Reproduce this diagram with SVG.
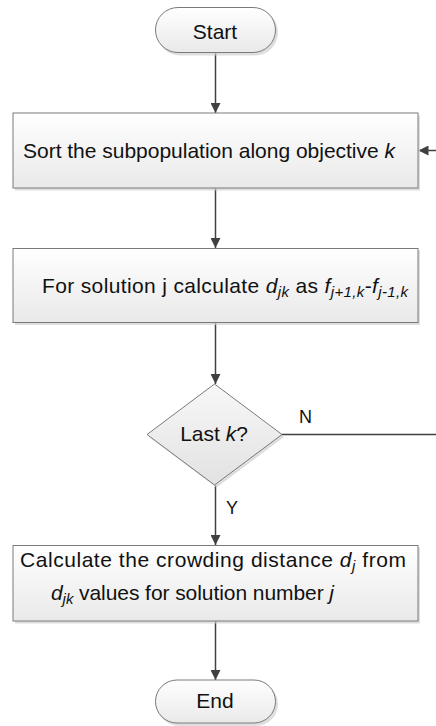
<svg xmlns="http://www.w3.org/2000/svg" width="436" height="726" viewBox="0 0 436 726">
<defs>
<linearGradient id="g" x1="0" y1="0" x2="0" y2="1">
<stop offset="0" stop-color="#ffffff"/>
<stop offset="1" stop-color="#e9e9e9"/>
</linearGradient>
<linearGradient id="gd" x1="0" y1="0" x2="0" y2="1">
<stop offset="0" stop-color="#f7f7f7"/>
<stop offset="1" stop-color="#e2e2e2"/>
</linearGradient>
<marker id="ah" viewBox="0 0 10 10" refX="10" refY="5" markerWidth="10" markerHeight="10" markerUnits="userSpaceOnUse" orient="auto">
<path d="M0,0 L10,5 L0,10 z" fill="#404040"/>
</marker>
</defs>
<style>
.shape{fill:url(#g);stroke:#7a7a7a;stroke-width:1}
.dia{fill:url(#gd);stroke:#7a7a7a;stroke-width:1}
.shadow{fill:#d0d0d0;stroke:none;opacity:0.7}
.t{font-family:"Liberation Sans",Arial,sans-serif;font-size:21px;fill:#111}
.lbl{font-family:"Liberation Sans",Arial,sans-serif;font-size:18px;fill:#111}
.i{font-style:italic}
.sub{font-size:15px;font-style:italic}
.c{fill:none;stroke:#404040;stroke-width:1.5}
</style>
<rect width="436" height="726" fill="#ffffff"/>
<g id="connectors">
<line class="c" x1="215.5" y1="53" x2="215.5" y2="113" marker-end="url(#ah)"/>
<line class="c" x1="215.5" y1="188" x2="215.5" y2="248" marker-end="url(#ah)"/>
<line class="c" x1="215.5" y1="322.5" x2="215.5" y2="384" marker-end="url(#ah)"/>
<line class="c" x1="215.5" y1="485" x2="215.5" y2="545" marker-end="url(#ah)"/>
<line class="c" x1="215.5" y1="621" x2="215.5" y2="680" marker-end="url(#ah)"/>
<polyline class="c" points="282,434.5 438,434.5 438,150.5 418.5,150.5" marker-end="url(#ah)"/>
<text class="lbl" x="299" y="423">N</text>
<text class="lbl" x="226" y="514">Y</text>
</g>
<g id="start">
<rect class="shadow" x="157" y="9.5" width="121" height="46" rx="23"/>
<rect class="shape" x="155.5" y="7.5" width="120" height="45" rx="22.5"/>
<text class="t" x="215" y="39" text-anchor="middle">Start</text>
</g>
<g id="sort">
<rect class="shadow" x="15" y="115.5" width="405" height="75"/>
<rect class="shape" x="13" y="113" width="405" height="75"/>
<text class="t" x="23" y="158" textLength="372" lengthAdjust="spacing">Sort the subpopulation along objective <tspan class="i">k</tspan></text>
</g>
<g id="calc-djk">
<rect class="shadow" x="15" y="250.5" width="405" height="74.5"/>
<rect class="shape" x="13" y="248.5" width="405" height="74"/>
<text class="t" x="42" y="293" textLength="366" lengthAdjust="spacing">For solution j calculate <tspan class="i">d</tspan><tspan class="sub" dy="4">jk</tspan><tspan dy="-4"> as </tspan><tspan class="i">f</tspan><tspan class="sub" dy="4">j+1,k</tspan><tspan dy="-4">-</tspan><tspan class="i">f</tspan><tspan class="sub" dy="4">j-1,k</tspan></text>
</g>
<g id="last-k">
<polygon class="shadow" points="216.5,387 284,437 216.5,487.5 149,437"/>
<polygon class="dia" points="214.5,384 282,434.5 214.5,485 147,434.5"/>
<text class="t" x="214" y="441" text-anchor="middle">Last <tspan class="i">k</tspan>?</text>
</g>
<g id="crowding">
<rect class="shadow" x="15" y="547.5" width="405" height="76"/>
<rect class="shape" x="13" y="545.5" width="405" height="75.5"/>
<text class="t" x="20" y="567" textLength="386" lengthAdjust="spacing">Calculate the crowding distance <tspan class="i">d</tspan><tspan class="sub" dy="4">j</tspan><tspan dy="-4"> from</tspan></text>
<text class="t" x="51" y="600" textLength="283" lengthAdjust="spacing"><tspan class="i">d</tspan><tspan class="sub" dy="4">jk</tspan><tspan dy="-4"> values for solution number </tspan><tspan class="i">j</tspan></text>
</g>
<g id="end">
<rect class="shadow" x="157" y="682" width="121" height="44" rx="22"/>
<rect class="shape" x="155.5" y="680" width="120" height="43" rx="21.5"/>
<text class="t" x="215" y="708" text-anchor="middle">End</text>
</g>
</svg>
